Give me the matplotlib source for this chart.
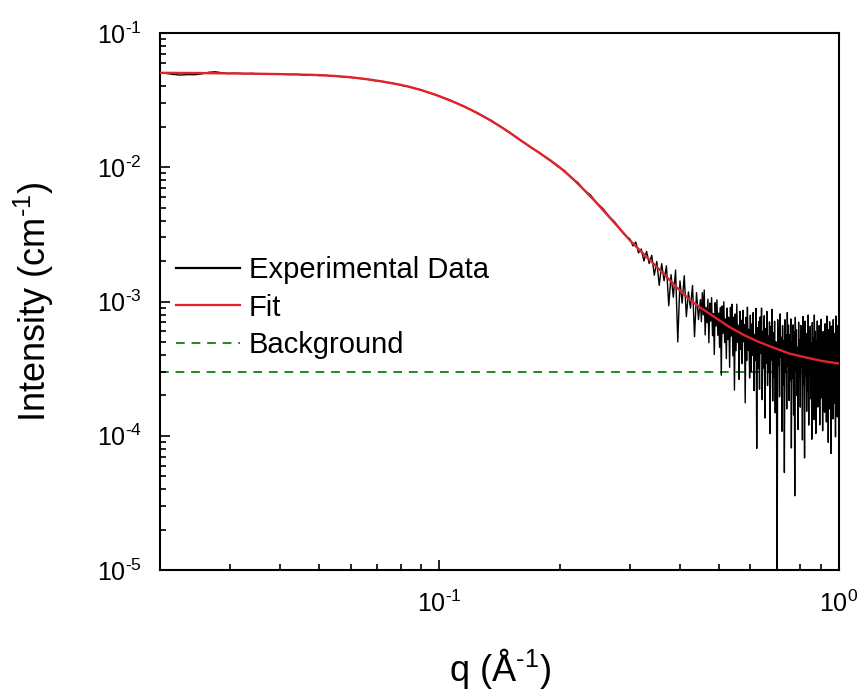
import numpy as np
import matplotlib
matplotlib.use("Agg")
import matplotlib.pyplot as plt
from matplotlib.lines import Line2D

plt.rcParams['font.family'] = ['Liberation Sans', 'DejaVu Sans']
plt.rcParams['mathtext.fontset'] = 'custom'
plt.rcParams['mathtext.rm'] = 'Liberation Sans'
plt.rcParams['mathtext.it'] = 'Liberation Sans'
plt.rcParams['mathtext.default'] = 'regular'

# ---------------- data ----------------
fit_q = [0.020, 0.025, 0.030, 0.035, 0.040, 0.045, 0.050, 0.055, 0.060, 0.065,
         0.070, 0.075, 0.080, 0.085, 0.090, 0.095, 0.100, 0.110, 0.120, 0.130,
         0.140, 0.150, 0.160, 0.170, 0.180, 0.190, 0.200, 0.215, 0.230, 0.245,
         0.260, 0.280, 0.300, 0.320, 0.340, 0.365, 0.390, 0.420, 0.450, 0.490,
         0.530, 0.580, 0.630, 0.690, 0.750, 0.820, 0.900, 1.000]
fit_I = [0.0505, 0.0503, 0.0500, 0.0497, 0.0494, 0.0490, 0.0486, 0.0478, 0.0468, 0.0455,
         0.0441, 0.0426, 0.0411, 0.0394, 0.0376, 0.0357, 0.0338, 0.0302, 0.0268, 0.0236,
         0.0207, 0.0181, 0.0158, 0.0140, 0.0125, 0.0112, 0.0100, 0.0083, 0.0068, 0.0056,
         0.0046, 0.0036, 0.00285, 0.00235, 0.00197, 0.00160, 0.00130, 0.00105, 0.00090, 0.00076,
         0.00065, 0.00056, 0.00050, 0.00045, 0.00041, 0.000385, 0.000362, 0.000345]

exp_q_low = [0.0205, 0.0215, 0.0225, 0.0235, 0.0245, 0.0255, 0.0265, 0.0275, 0.0285, 0.0295,
             0.031, 0.0325, 0.034, 0.0355, 0.037, 0.0385, 0.040, 0.042, 0.044, 0.046,
             0.048, 0.050, 0.052, 0.054, 0.056, 0.058, 0.060, 0.063, 0.066, 0.069,
             0.072, 0.075, 0.078, 0.081, 0.084, 0.087, 0.090, 0.094, 0.098, 0.102,
             0.106, 0.110, 0.115, 0.120, 0.125, 0.130, 0.135, 0.140, 0.146, 0.152,
             0.158, 0.164, 0.170, 0.177, 0.184, 0.191, 0.198, 0.206, 0.214, 0.222,
             0.230, 0.239, 0.248, 0.257, 0.266, 0.275, 0.284, 0.292]
exp_I_low = [0.0502, 0.0492, 0.0486, 0.0490, 0.0489, 0.0497, 0.0510, 0.0514, 0.0506, 0.0499,
             0.0502, 0.0498, 0.0500, 0.0495, 0.0497, 0.0494, 0.0496, 0.0490, 0.0493, 0.0484,
             0.0488, 0.0482, 0.0484, 0.0476, 0.0475, 0.0469, 0.0467, 0.0459, 0.0452, 0.0442,
             0.0436, 0.0425, 0.0418, 0.0405, 0.0399, 0.0385, 0.0378, 0.0359, 0.0347, 0.0331,
             0.0318, 0.0301, 0.0286, 0.0267, 0.0253, 0.0235, 0.0223, 0.0206, 0.0192, 0.0176,
             0.0163, 0.0151, 0.0139, 0.0130, 0.0119, 0.0110, 0.0101, 0.0094, 0.0083, 0.0077,
             0.0068, 0.0062, 0.0054, 0.0049, 0.0043, 0.0039, 0.0034, 0.0031]

exp_q_high = [0.300, 0.305, 0.310, 0.315, 0.320, 0.325, 0.330, 0.335, 0.340, 0.345,
              0.350, 0.355, 0.360, 0.365, 0.370, 0.375, 0.380, 0.385, 0.390, 0.395,
              0.400, 0.405, 0.410, 0.415, 0.420, 0.425, 0.430, 0.435, 0.440, 0.445,
              0.4500, 0.4525, 0.4550, 0.4575, 0.4600, 0.4625, 0.4650, 0.4675, 0.4700, 0.4725,
              0.4750, 0.4775, 0.4800, 0.4825, 0.4850, 0.4875, 0.4900, 0.4925, 0.4950, 0.4975,
              0.5000, 0.5025, 0.5050, 0.5075, 0.5100, 0.5125, 0.5150, 0.5175, 0.5200, 0.5225,
              0.5250, 0.5275, 0.5300, 0.5325, 0.5350, 0.5375, 0.5400, 0.5425, 0.5450, 0.5475,
              0.5500, 0.5525, 0.5550, 0.5575, 0.5600, 0.5625, 0.5650, 0.5675, 0.5700, 0.5725,
              0.5750, 0.5775, 0.5800, 0.5825, 0.5850, 0.5875, 0.5900, 0.5925, 0.5950, 0.5975,
              0.6000, 0.6025, 0.6050, 0.6075, 0.6100, 0.6125, 0.6150, 0.6175, 0.6200, 0.6225,
              0.6250, 0.6275, 0.6300, 0.6325, 0.6350, 0.6375, 0.6400, 0.6425, 0.6450, 0.6475,
              0.6500, 0.6525, 0.6550, 0.6575, 0.6600, 0.6625, 0.6650, 0.6675, 0.6700, 0.6725,
              0.6750, 0.6775, 0.6800, 0.6825, 0.6850, 0.6875, 0.6900, 0.6925, 0.6950, 0.6975,
              0.7000, 0.7025, 0.7050, 0.7075, 0.7100, 0.7125, 0.7150, 0.7175, 0.7200, 0.7225,
              0.7250, 0.7275, 0.7300, 0.7325, 0.7350, 0.7375, 0.7400, 0.7425, 0.7450, 0.7475,
              0.7500, 0.7525, 0.7550, 0.7575, 0.7600, 0.7625, 0.7650, 0.7675, 0.7700, 0.7725,
              0.7750, 0.7775, 0.7800, 0.7825, 0.7850, 0.7875, 0.7900, 0.7925, 0.7950, 0.7975,
              0.8000, 0.8025, 0.8050, 0.8075, 0.8100, 0.8125, 0.8150, 0.8175, 0.8200, 0.8225,
              0.8250, 0.8275, 0.8300, 0.8325, 0.8350, 0.8375, 0.8400, 0.8425, 0.8450, 0.8475,
              0.8500, 0.8525, 0.8550, 0.8575, 0.8600, 0.8625, 0.8650, 0.8675, 0.8700, 0.8725,
              0.8750, 0.8775, 0.8800, 0.8825, 0.8850, 0.8875, 0.8900, 0.8925, 0.8950, 0.8975,
              0.9000, 0.9025, 0.9050, 0.9075, 0.9100, 0.9125, 0.9150, 0.9175, 0.9200, 0.9225,
              0.9250, 0.9275, 0.9300, 0.9325, 0.9350, 0.9375, 0.9400, 0.9425, 0.9450, 0.9475,
              0.9500, 0.9525, 0.9550, 0.9575, 0.9600, 0.9625, 0.9650, 0.9675, 0.9700, 0.9725,
              0.9750, 0.9775, 0.9800, 0.9825, 0.9850, 0.9875, 0.9900, 0.9925, 0.9950, 0.9975,
              1.0000]
# log10 of intensity (cm^-1) in the noisy high-q part
exp_log10_I_high = [
    -2.535, -2.586, -2.557, -2.638, -2.609, -2.698, -2.627, -2.717, -2.656, -2.804,
    -2.702, -2.880, -2.718, -2.846, -2.734, -3.032, -2.800, -2.968, -2.766, -3.301,
    -2.847, -3.012, -2.808, -3.113, -2.929, -3.050, -2.881, -3.262, -2.934, -3.135,
    -2.986, -3.150, -2.935, -3.100, -2.914, -3.249, -3.043, -3.158, -2.983, -3.307,
    -3.012, -3.146, -2.971, -3.255, -3.090, -3.395, -3.009, -3.183, -2.988, -3.252,
    -3.086, -3.341, -3.045, -3.549, -3.033, -3.238, -3.002, -3.306, -3.130, -3.425,
    -3.049, -3.283, -3.117, -3.490, -3.044, -3.257, -3.020, -3.404, -3.117, -3.660,
    -3.093, -3.367, -3.020, -3.303, -3.176, -3.580, -3.073, -3.356, -3.139, -3.463,
    -3.066, -3.299, -3.172, -3.755, -3.117, -3.440, -3.042, -3.365, -3.207, -3.570,
    -3.102, -3.525, -3.167, -3.400, -3.082, -3.664, -3.246, -3.439, -3.051, -4.094,
    -3.196, -3.499, -3.151, -3.653, -3.115, -3.387, -3.049, -3.731, -3.223, -3.495,
    -3.106, -3.868, -3.200, -3.462, -3.074, -3.626, -3.258, -3.530, -3.152, -3.984,
    -3.186, -3.438, -3.059, -3.741, -3.233, -3.565, -3.147, -3.829, -3.300, -3.502,
    -5.300, -3.136, -3.477, -3.199, -3.710, -3.092, -3.414, -3.266, -3.967, -3.179,
    -3.620, -3.292, -4.274, -3.136, -3.527, -3.249, -3.800, -3.082, -3.484, -3.176,
    -3.737, -3.248, -3.589, -3.130, -4.091, -3.302, -3.573, -3.174, -3.845, -3.226,
    -4.447, -3.118, -3.519, -3.210, -3.701, -3.342, -3.953, -3.154, -3.565, -3.286,
    -3.787, -3.178, -3.489, -3.260, -4.031, -3.112, -3.613, -3.314, -4.165, -3.146,
    -3.557, -3.238, -3.818, -3.339, -3.670, -3.101, -3.921, -3.222, -3.523, -3.184,
    -3.725, -3.306, -4.026, -3.157, -3.608, -3.269, -3.880, -3.101, -3.511, -3.222,
    -3.983, -3.294, -3.654, -3.145, -3.786, -3.337, -3.588, -3.179, -3.919, -3.250,
    -3.721, -3.132, -3.562, -3.273, -3.963, -3.224, -3.644, -3.355, -3.825, -3.166,
    -3.546, -3.247, -3.897, -3.108, -3.698, -3.319, -4.049, -3.210, -3.610, -3.151,
    -3.801, -3.342, -4.132, -3.183, -3.654, -3.274, -3.875, -3.135, -3.576, -3.236,
    -3.757, -3.307, -4.008, -3.108, -3.679, -3.259, -3.860, -3.180, -3.611, -3.211,
    -3.642]

background_level = 3.0e-4

x_ticks = [0.1, 1.0]
x_tick_labels = [r"$10^{\text{-}1}$", r"$10^{0}$"]
y_ticks = [1e-5, 1e-4, 1e-3, 1e-2, 1e-1]
y_tick_labels = [r"$10^{\text{-}5}$", r"$10^{\text{-}4}$", r"$10^{\text{-}3}$",
                 r"$10^{\text{-}2}$", r"$10^{\text{-}1}$"]
x_label = "q (\u00c5" + r"$^{\text{-}1}$)"
y_label = r"Intensity (cm$^{\text{-}1}$)"
legend_labels = ["Experimental Data", "Fit", "Background"]

# ---------------- figure ----------------
W, H = 861, 693
fig = plt.figure(figsize=(W / 100, H / 100), dpi=100)
ax = fig.add_axes([160 / W, 1 - 570 / H, 679 / W, 537 / H])

exp_q = np.array(exp_q_low + exp_q_high)
exp_I = np.concatenate([np.array(exp_I_low), 10.0 ** np.array(exp_log10_I_high)])

c_data = '#000000'
c_fit = '#e3222b'
c_bg = '#1f8a1f'
bg_ls = (0, (4.5, 3.5))

ax.axhline(background_level, color=c_bg, lw=1.4, ls=bg_ls, zorder=1)
ax.plot(exp_q, exp_I, color=c_data, lw=1.0, zorder=2)
ax.plot(fit_q, fit_I, color=c_fit, lw=1.7, zorder=3)

ax.set_xscale('log')
ax.set_yscale('log')
ax.set_xlim(0.02, 1.0)
ax.set_ylim(1e-5, 1e-1)

for s in ax.spines.values():
    s.set_linewidth(1.5)

ax.set_xticks(x_ticks)
ax.set_xticklabels(x_tick_labels)
ax.set_yticks(y_ticks)
ax.set_yticklabels(y_tick_labels)
ax.xaxis.set_minor_locator(matplotlib.ticker.LogLocator(base=10, subs=np.arange(2, 10)))
ax.yaxis.set_minor_locator(matplotlib.ticker.LogLocator(base=10, subs=np.arange(2, 10)))
ax.xaxis.set_minor_formatter(matplotlib.ticker.NullFormatter())
ax.yaxis.set_minor_formatter(matplotlib.ticker.NullFormatter())

ax.tick_params(which='both', direction='in', top=False, right=False, width=1.2)
ax.tick_params(which='major', length=7, labelsize=18)
ax.tick_params(which='minor', length=4)
ax.tick_params(axis='x', which='major', pad=15)
ax.tick_params(axis='y', which='major', pad=13)

ax.set_xlabel(x_label, fontsize=26)
ax.set_ylabel(y_label, fontsize=26)
ax.xaxis.set_label_coords(0.5, -(646 - 570) / 537)
ax.xaxis.label.set_va('top')
ax.yaxis.set_label_coords((56 - 160) / 679, 0.5)

handles = [Line2D([], [], color=c_data, lw=1.6),
           Line2D([], [], color=c_fit, lw=1.6),
           Line2D([], [], color=c_bg, lw=1.4, ls=bg_ls)]
ax.legend(handles, legend_labels, loc='upper left',
          bbox_to_anchor=(176 / W, 1 - 256 / H), bbox_transform=fig.transFigure,
          frameon=False, fontsize=21, handlelength=2.2, handletextpad=0.3,
          labelspacing=0.33, borderpad=0, borderaxespad=0)

fig.savefig('out.png', dpi=100)
